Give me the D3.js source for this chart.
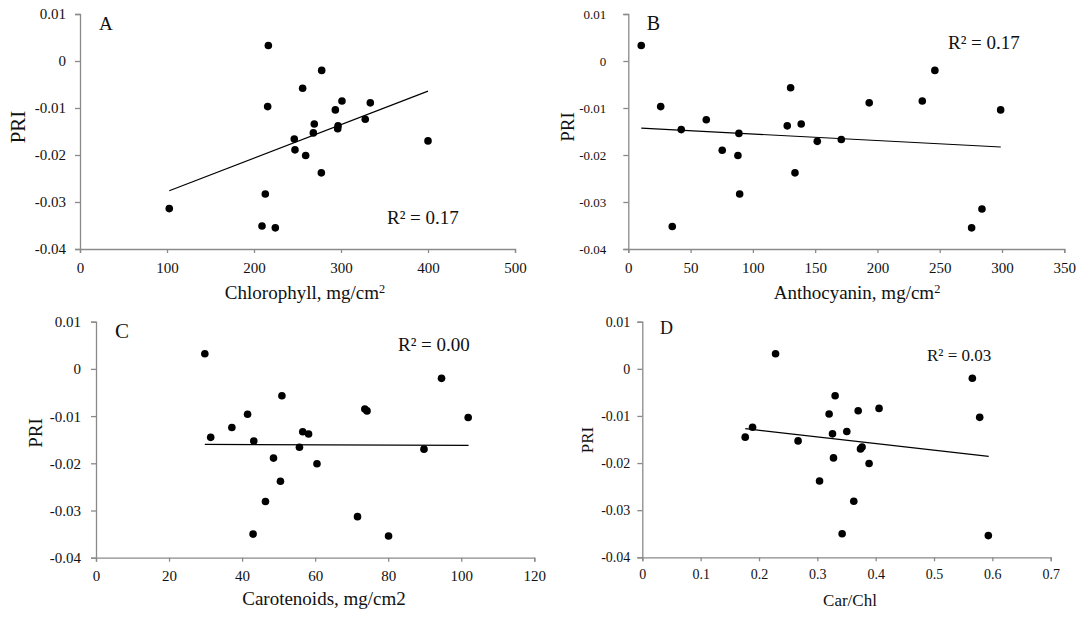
<!DOCTYPE html>
<html><head><meta charset="utf-8">
<script src="https://cdn.jsdelivr.net/npm/d3@7"></script>
<style>html,body{margin:0;padding:0;background:#fff}svg{display:block}svg text{font-family:'Liberation Serif','Times New Roman',serif}</style>
</head><body>
<svg id="chart" width="1083" height="619"></svg>
<script>
// ---------- data ----------
const chlorophyll = [102.6, 209.2, 213, 216.5, 215.7, 224.5, 277.8, 255.9, 301.1, 333.7, 293.5, 327.9, 269.3, 296.6, 296.2, 268.2, 246.3, 247.1, 259.4, 277.4, 400];
const priChl      = [-0.0314, -0.0351, -0.0283, 0.0033, -0.0097, -0.0355, -0.0020, -0.0058, -0.0085, -0.0089, -0.0104, -0.0124, -0.0134, -0.0138, -0.0144, -0.0153, -0.0166, -0.0189, -0.0201, -0.0238, -0.0170];

const anthocyanin = [10.4, 26, 42.5, 35.3, 62.6, 75.4, 88, 88.8, 89.4, 130.3, 127.6, 133.8, 138.8, 151.7, 171, 193.4, 236, 246.1, 298.9, 283.9, 275.6];
const priAnth     = [0.0033, -0.0097, -0.0146, -0.0352, -0.0125, -0.0190, -0.0201, -0.0154, -0.0283, -0.0057, -0.0138, -0.0238, -0.0134, -0.0171, -0.0167, -0.0089, -0.0085, -0.0020, -0.0104, -0.0315, -0.0355];

const carotenoids = [29.8, 31.4, 37.2, 41.5, 43.2, 43.0, 46.4, 48.6, 50.5, 50.9, 55.7, 56.6, 58.2, 60.5, 71.6, 73.6, 74.2, 80.1, 89.8, 94.6, 101.9];
const priCar      = [0.0032, -0.0145, -0.0124, -0.0096, -0.0153, -0.0350, -0.0281, -0.0189, -0.0238, -0.0057, -0.0166, -0.0133, -0.0138, -0.0201, -0.0313, -0.0085, -0.0089, -0.0354, -0.0170, -0.0020, -0.0103];

const carChl      = [0.1764, 0.189, 0.2284, 0.267, 0.3038, 0.3202, 0.3305, 0.326, 0.3277, 0.3425, 0.3505, 0.3625, 0.370, 0.374, 0.3767, 0.3887, 0.4058, 0.5657, 0.5783, 0.5931];
const priCarChl   = [-0.0145, -0.0124, 0.0032, -0.0153, -0.0238, -0.0096, -0.0057, -0.0138, -0.0189, -0.0350, -0.0133, -0.0281, -0.0089, -0.0170, -0.0166, -0.0201, -0.0084, -0.0020, -0.0103, -0.0354];

// trend line end points (x, PRI)
const trendChlX = [102.6, 400],  trendChlY = [-0.0276, -0.0064];
const trendAnthX = [10.4, 299],  trendAnthY = [-0.0143, -0.0183];
const trendCarX = [29.8, 102],   trendCarY = [-0.0160, -0.0162];
const trendRatioX = [0.1764, 0.5937], trendRatioY = [-0.0127, -0.0186];

const r2Labels = ["R² = 0.17", "R² = 0.17", "R² = 0.00", "R² = 0.03"];
const panelLetters = ["A", "B", "C", "D"];
const xTitles = [["Chlorophyll, mg/cm", "2"], ["Anthocyanin, mg/cm", "2"], ["Carotenoids, mg/cm2", ""], ["Car/Chl", ""]];

const yTickValues = [0.01, 0, -0.01, -0.02, -0.03, -0.04];
const yTickLabels = ["0.01", "0", "-0.01", "-0.02", "-0.03", "-0.04"];
const xTicksChl = [0, 100, 200, 300, 400, 500];
const xTicksAnth = [0, 50, 100, 150, 200, 250, 300, 350];
const xTicksCar = [0, 20, 40, 60, 80, 100, 120];
const xTicksRatio = [0, 0.1, 0.2, 0.3, 0.4, 0.5, 0.6, 0.7];
const xTickLabelsRatio = ["0", "0.1", "0.2", "0.3", "0.4", "0.5", "0.6", "0.7"];

// ---------- layout ----------
const panels = [
  {x: chlorophyll, y: priChl, tx: trendChlX, ty: trendChlY, xTicks: xTicksChl, xLab: null,
   xr: [80, 515], yr: [249, 14], yGap: 14, yFs: 15, xFs: 15, xLabBase: 273,
   title: 0, titleX: 305, titleY: 299, titleFs: 19,
   pri: {x: 18, y: 127, fs: 21}, letter: {x: 99, y: 30, fs: 19},
   r2: {x: 387, y: 224, fs: 19}},
  {x: anthocyanin, y: priAnth, tx: trendAnthX, ty: trendAnthY, xTicks: xTicksAnth, xLab: null,
   xr: [628.3, 1064.3], yr: [249, 14], yGap: 22, yFs: 13, xFs: 15, xLabBase: 273,
   title: 1, titleX: 857, titleY: 299, titleFs: 19,
   pri: {x: 567, y: 127, fs: 19}, letter: {x: 646.7, y: 30, fs: 20},
   r2: {x: 948, y: 48.7, fs: 19}},
  {x: carotenoids, y: priCar, tx: trendCarX, ty: trendCarY, xTicks: xTicksCar, xLab: null,
   xr: [96, 534.3], yr: [557.7, 321.7], yGap: 15, yFs: 15, xFs: 15, xLabBase: 581,
   title: 2, titleX: 324, titleY: 605, titleFs: 19,
   pri: {x: 35, y: 433, fs: 19}, letter: {x: 115, y: 338, fs: 21},
   r2: {x: 398, y: 351, fs: 19}},
  {x: carChl, y: priCarChl, tx: trendRatioX, ty: trendRatioY, xTicks: xTicksRatio, xLab: xTickLabelsRatio,
   xr: [642.3, 1050.7], yr: [557.3, 321.7], yGap: 12, yFs: 14, xFs: 14, xLabBase: 579.5,
   title: 3, titleX: 850, titleY: 606, titleFs: 17,
   pri: {x: 587.3, y: 440, fs: 17}, letter: {x: 660, y: 334.3, fs: 18},
   r2: {x: 927, y: 361, fs: 17}}
];

const svg = d3.select("#chart");
const FONT = "'Liberation Serif', 'Times New Roman', serif";
const AX = "#8a8a8a";

panels.forEach((p, i) => {
  const xs = d3.scaleLinear().domain([p.xTicks[0], p.xTicks[p.xTicks.length - 1]]).range(p.xr);
  const ys = d3.scaleLinear().domain([-0.04, 0.01]).range(p.yr);
  const g = svg.append("g").attr("font-family", FONT);

  // y axis
  const yAxis = d3.axisLeft(ys).tickValues(yTickValues).tickSize(5).tickPadding(p.yGap - 5)
    .tickFormat((d, k) => yTickLabels[k]);
  const ya = g.append("g").attr("transform", `translate(${p.xr[0]},0)`).call(yAxis);
  // x axis
  const xAxis = d3.axisBottom(xs).tickValues(p.xTicks).tickSize(4).tickSizeOuter(4)
    .tickFormat((d, k) => p.xLab ? p.xLab[k] : String(d));
  const xa = g.append("g").attr("transform", `translate(0,${p.yr[0]})`).call(xAxis);

  [ya, xa].forEach(a => {
    a.attr("font-family", FONT);
    a.select(".domain").attr("stroke", AX).attr("stroke-width", 1.3);
    a.selectAll(".tick line").attr("stroke", AX).attr("stroke-width", 1.3);
    a.selectAll("text").attr("fill", "#111").attr("font-family", FONT);
  });
  ya.selectAll("text").attr("font-size", p.yFs).attr("dy", "0.33em");
  xa.selectAll("text").attr("font-size", p.xFs).attr("dy", null)
    .attr("y", p.xLabBase - p.yr[0]);
  ya.attr("font-size", null); xa.attr("font-size", null);

  // trend line
  const tline = d3.line().x(d => xs(d[0])).y(d => ys(d[1]));
  g.append("path").datum(p.tx.map((v, k) => [v, p.ty[k]]))
    .attr("d", tline).attr("fill", "none").attr("stroke", "#000").attr("stroke-width", 1.2);

  // points
  g.selectAll("circle.pt").data(p.x.map((v, k) => [v, p.y[k]])).enter()
    .append("circle").attr("class", "pt")
    .attr("cx", d => xs(d[0])).attr("cy", d => ys(d[1])).attr("r", 3.8).attr("fill", "#000");

  // y title
  g.append("text").attr("transform", `translate(${p.pri.x},${p.pri.y}) rotate(-90)`)
    .attr("text-anchor", "middle").attr("dy", "0.35em").attr("font-size", p.pri.fs)
    .attr("fill", "#111").text("PRI");

  // x title
  const t = g.append("text").attr("x", p.titleX).attr("y", p.titleY).attr("text-anchor", "middle")
    .attr("font-size", p.titleFs).attr("fill", "#111");
  t.append("tspan").text(xTitles[p.title][0]);
  if (xTitles[p.title][1]) {
    t.append("tspan").attr("dy", "-0.45em").attr("font-size", p.titleFs * 0.65).text(xTitles[p.title][1]);
  }

  // panel letter
  g.append("text").attr("x", p.letter.x).attr("y", p.letter.y).attr("font-size", p.letter.fs)
    .attr("fill", "#111").text(panelLetters[i]);

  // R² label
  g.append("text").attr("x", p.r2.x).attr("y", p.r2.y).attr("font-size", p.r2.fs)
    .attr("fill", "#111").text(r2Labels[i]);
});
</script>
</body></html>
